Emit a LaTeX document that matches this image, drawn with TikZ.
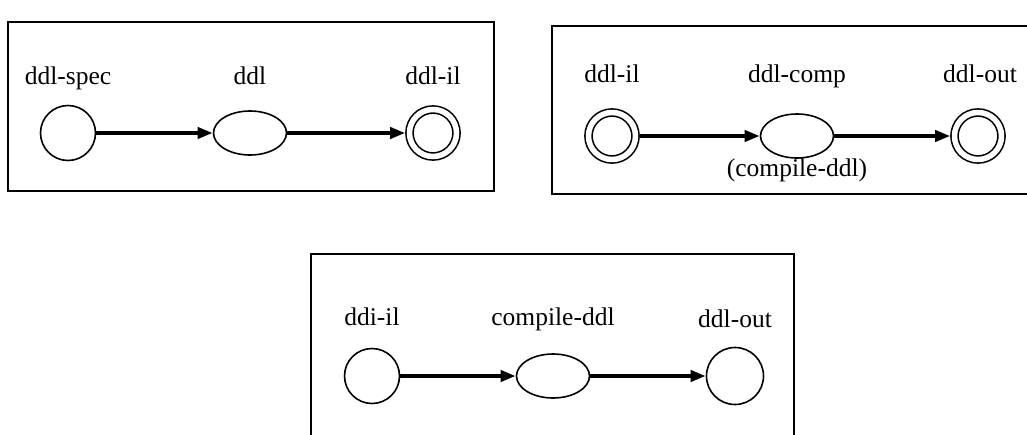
\documentclass[tikz,border=0pt]{standalone}
\usepackage{fontspec}
\setmainfont{Liberation Serif}
\usetikzlibrary{arrows.meta,shapes.geometric}

\tikzset{
  state/.style={circle,draw,line width=1.6pt,minimum size=55pt,inner sep=0pt},
  final/.style={state,double,double distance=5.5pt,minimum size=47pt,outer sep=4.3pt},
  task/.style={ellipse,draw,line width=1.6pt,minimum width=73pt,minimum height=44pt,inner sep=0pt},
  tagtext/.style={anchor=base,inner sep=0pt,font=\fontsize{25.5}{30}\selectfont},
  flow/.style={line width=4pt,-{Triangle[length=15pt,width=11pt]}},
  frame/.style={line width=2pt}
}

\begin{document}
\begin{tikzpicture}[x=1pt,y=-1pt]
\useasboundingbox (0,0) rectangle (1027,434);

\draw[frame] (8,22) rectangle (494,191);
\draw[frame] (1040,26) -- (552,26) -- (552,194) -- (1040,194);
\draw[frame] (311,450) -- (311,254) -- (794,254) -- (794,450);

\node[state] (spec) at (68,133) {};
\node[task] (ddl) at (250,133) {};
\node[final] (il) at (433,133) {};
\node[tagtext] (specname) at (68,84) {ddl-spec};
\node[tagtext] (ddlname) at (250,84) {ddl};
\node[tagtext] (ilname) at (433,84) {ddl-il};
\draw[flow] (spec) -- (ddl);
\draw[flow] (ddl) -- (il);

\node[final] (ilin) at (612,136) {};
\node[task] (comp) at (797,136) {};
\node[final] (out) at (978,136) {};
\node[tagtext] (ilinname) at (612,82) {ddl-il};
\node[tagtext] (compname) at (797,82) {ddl-comp};
\node[tagtext] (outname) at (980,82) {ddl-out};
\node[tagtext] (compcall) at (797,176) {(compile-ddl)};
\draw[flow] (ilin) -- (comp);
\draw[flow] (comp) -- (out);

\node[state] (ddi) at (372,376) {};
\node[task] (compile) at (553,376) {};
\node[state,minimum size=57pt] (ddlout) at (735,376) {};
\node[tagtext] (ddiname) at (372,325) {ddi-il};
\node[tagtext] (compilename) at (553,325) {compile-ddl};
\node[tagtext] (ddloutname) at (735,327) {ddl-out};
\draw[flow] (ddi) -- (compile);
\draw[flow] (compile) -- (ddlout);

\end{tikzpicture}
\end{document}
